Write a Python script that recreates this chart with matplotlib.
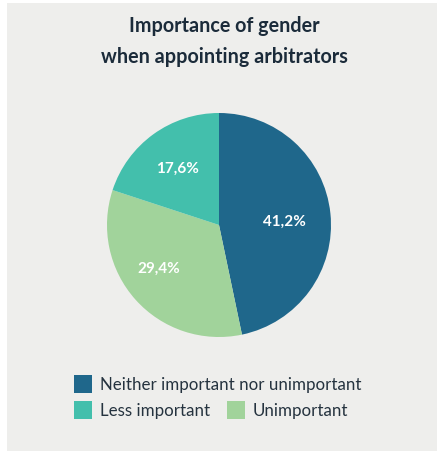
import matplotlib
matplotlib.use("Agg")
import matplotlib.pyplot as plt
from matplotlib.patches import Rectangle
import numpy as np

categories = ["Neither important nor unimportant", "Unimportant", "Less important"]
values = [41.2, 29.4, 17.6]
value_labels = ["41,2%", "29,4%", "17,6%"]
colors = ["#1f678b", "#a1d39b", "#43bfac"]
title = "Importance of gender\nwhen appointing arbitrators"

W, H = 437, 452
DPI = 100
plt.rcParams["font.family"] = ["Lato", "DejaVu Sans"]

fig = plt.figure(figsize=(W / DPI, H / DPI), dpi=DPI, facecolor="white")

# Grey card behind the chart
fig.patches.append(Rectangle((7 / W, 0), (W - 7) / W, (H - 4) / H,
                             transform=fig.transFigure, facecolor="#eeeeec",
                             edgecolor="none", zorder=-5))

def fx(px):
    return px / W

def fy(py):
    return 1 - py / H

fig.text(fx(224), fy(41.5), title, ha="center", va="center", fontsize=14.2,
         fontweight="bold", color="#1b2b3a", linespacing=1.72)

# Pie
cx, cy, r = 219, 226, 112
ax = fig.add_axes([fx(cx - r), fy(cy + r), 2 * r / W, 2 * r / H])
ax.set_zorder(2)
wedges, _ = ax.pie(values, colors=colors, startangle=90, counterclock=False,
                   wedgeprops=dict(linewidth=0))
ax.set_xlim(-1, 1)
ax.set_ylim(-1, 1)
ax.set_aspect("auto")
ax.axis("off")

# Percentage labels placed along each wedge's bisector
label_r = [0.59, 0.66, 0.63]
label_shift = [-2, -6, 0]
for w, lab, lr, sh in zip(wedges, value_labels, label_r, label_shift):
    mid = np.deg2rad((w.theta1 + w.theta2) / 2 + sh)
    ax.text(lr * np.cos(mid), lr * np.sin(mid), lab, ha="center", va="center",
            fontsize=11, fontweight="bold", color="white")

# Legend: first row one entry, second row two entries
legend_rows = [
    [(0, 74)],
    [(2, 74), (1, 227)],
]
row_y = [385, 411]
sq = 18
for row, yc in zip(legend_rows, row_y):
    for idx, x0 in row:
        fig.patches.append(Rectangle((fx(x0), fy(yc + sq / 2)), sq / W, sq / H,
                                     transform=fig.transFigure,
                                     facecolor=colors[idx], edgecolor="none"))
        fig.text(fx(x0 + 26), fy(yc), categories[idx], ha="left", va="center",
                 fontsize=12.2, color="#25333f")

fig.savefig("out.png", dpi=DPI, facecolor="white")
